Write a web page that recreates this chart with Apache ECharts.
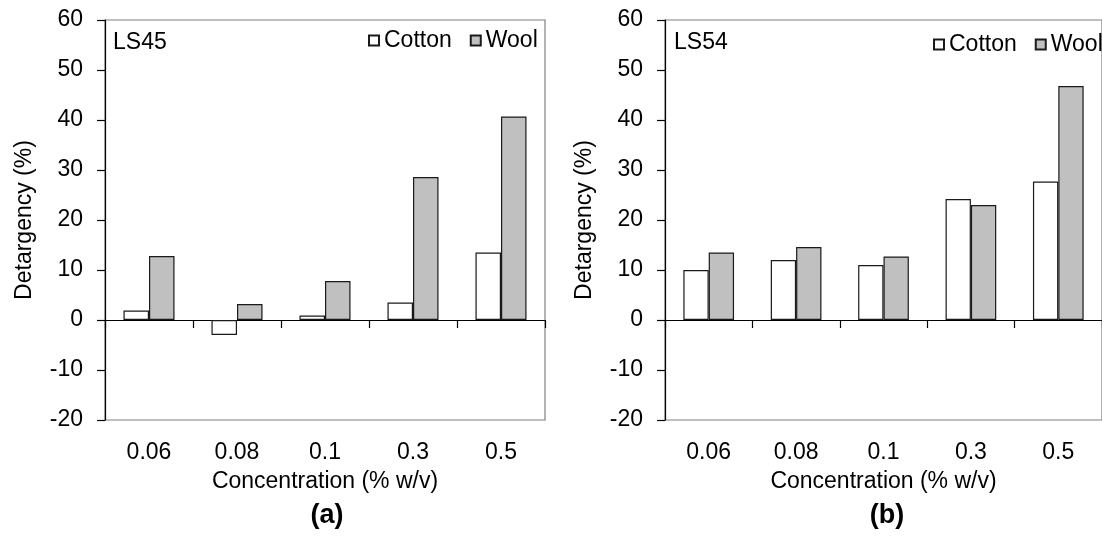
<!DOCTYPE html>
<html>
<head>
<meta charset="utf-8">
<style>
  html, body { margin: 0; padding: 0; background: #fff; }
  #chart { width: 1102px; height: 540px; }
</style>
<script src="https://cdn.jsdelivr.net/npm/echarts@6/dist/echarts.min.js"></script>
</head>
<body>
<div id="chart"></div>
<script>
'use strict';

// ---- data ----
const categories = ['0.06', '0.08', '0.1', '0.3', '0.5'];
const ls45Cotton = [1.9, -3.0, 0.9, 3.5, 13.5];
const ls45Wool = [12.8, 3.2, 7.8, 28.6, 40.7];
const ls54Cotton = [10.0, 12.0, 11.0, 24.2, 27.7];
const ls54Wool = [13.5, 14.6, 12.7, 23.0, 46.8];
const yTicks = { min: -20, max: 60, interval: 10 };

// ---- style ----
const FONT = 'Arial, "Liberation Sans", sans-serif';
const C = { cotton: '#ffffff', wool: '#c0c0c0', edge: '#1a1a1a', frame: '#808080', ink: '#000' };
const txt = { color: C.ink, fontFamily: FONT, fontSize: 23 };

const grids = [
  { left: 105, top: 20, width: 440, height: 400 },
  { left: 665, top: 20, width: 442, height: 400 },
];

const xAxes = [], yAxes = [];
grids.forEach((g, i) => {
  // bottom axis: category labels + axis name
  xAxes.push({
    gridIndex: i, type: 'category', data: categories, position: 'bottom',
    axisLine: { show: false, onZero: false }, axisTick: { show: false },
    axisLabel: { ...txt, margin: 21 },
    name: 'Concentration (% w/v)', nameLocation: 'middle', nameGap: 50, nameTextStyle: txt,
  });
  // zero line with category-boundary ticks
  xAxes.push({
    gridIndex: i, type: 'category', data: categories, position: 'bottom',
    axisLine: { onZero: true, lineStyle: { color: C.ink, width: 1.2 } },
    axisTick: { show: true, length: 8, lineStyle: { color: C.ink, width: 1.2 } },
    axisLabel: { show: false },
  });
  yAxes.push({
    gridIndex: i, type: 'value', ...yTicks,
    axisLine: { show: true, lineStyle: { color: C.ink, width: 1.2 } },
    axisTick: { show: true, length: 8, lineStyle: { color: C.ink, width: 1.2 } },
    axisLabel: { ...txt, margin: 22 },
    splitLine: { show: false },
    name: 'Detargency (%)', nameLocation: 'middle', nameGap: 69, nameTextStyle: txt,
  });
});

const bar = (name, data, gi, fill) => ({
  name, type: 'bar', data, xAxisIndex: gi * 2, yAxisIndex: gi,
  barGap: '0%', barCategoryGap: '42%',
  itemStyle: { color: fill, borderColor: C.edge, borderWidth: 1.2 },
  emphasis: { disabled: true },
});

const legendBase = {
  data: ['Cotton', 'Wool'], icon: 'rect', itemWidth: 10, itemHeight: 10, itemGap: 18,
  orient: 'horizontal', width: 240, textStyle: txt, selectedMode: false,
};

const chart = echarts.init(document.getElementById('chart'));
chart.setOption({
  animation: false,
  grid: grids.map(g => ({ ...g, show: true, borderColor: C.frame, borderWidth: 1.2, backgroundColor: 'transparent' })),
  xAxis: xAxes,
  yAxis: yAxes,
  legend: [
    { ...legendBase, left: 363, top: 24 },
    { ...legendBase, left: 928, top: 28 },
  ],
  graphic: [
    { type: 'text', left: 113, top: 31, style: { text: 'LS45', fill: C.ink, font: '23px ' + FONT } },
    { type: 'text', left: 674, top: 31, style: { text: 'LS54', fill: C.ink, font: '23px ' + FONT } },
    { type: 'text', x: 327, y: 516, style: { text: '(a)', fill: C.ink, font: 'bold 27px ' + FONT, textAlign: 'center', textVerticalAlign: 'middle' } },
    { type: 'text', x: 887, y: 516, style: { text: '(b)', fill: C.ink, font: 'bold 27px ' + FONT, textAlign: 'center', textVerticalAlign: 'middle' } },
  ],
  series: [
    bar('Cotton', ls45Cotton, 0, C.cotton),
    bar('Wool', ls45Wool, 0, C.wool),
    bar('Cotton', ls54Cotton, 1, C.cotton),
    bar('Wool', ls54Wool, 1, C.wool),
  ],
});
</script>
</body>
</html>
